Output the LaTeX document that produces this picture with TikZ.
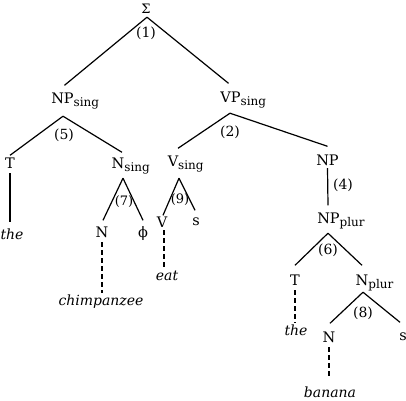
\documentclass[tikz,border=0pt]{standalone}
\usepackage{fontspec}
\setmainfont{DejaVu Serif}
\newcommand{\sbs}[1]{\rlap{\raisebox{-3.5pt}{\fontsize{12}{12}\selectfont #1}}}
\tikzset{
  lab/.style={inner sep=0pt, text height=10.5pt, text depth=0pt, anchor=base, font=\fontsize{14.5}{17}\selectfont},
  wrd/.style={lab, font=\fontsize{14}{17}\selectfont\itshape},
  num/.style={inner sep=0pt, font=\fontsize{14}{17}\selectfont},
  edge/.style={line width=1.2pt},
  dedge/.style={line width=1.1pt, dash pattern=on 5pt off 3pt}
}
\begin{document}
\begin{tikzpicture}[x=1pt,y=-1pt]
\useasboundingbox (0,0) rectangle (406,400);
% nodes
\node[lab, text height=9pt, font=\fontsize{13}{15}\selectfont] (sigma) at (146,13) {Σ};
\node[lab] (npsing) at (62.5,103) {NP\sbs{sing}};
\node[lab] (vpsing) at (230.5,102) {VP\sbs{sing}};
\node[lab] (tA) at (10,168) {T};
\node[lab] (nsing) at (118,168) {N\sbs{sing}};
\node[lab] (vsing) at (173,166) {V\sbs{sing}};
\node[lab] (np) at (327.5,165) {NP};
\node[lab] (npplur) at (328.5,223) {NP\sbs{plur}};
\node[wrd] (theA) at (12,239) {the};
\node[lab] (nA) at (102,237) {N};
\node[lab] (phi) at (143,237) {ϕ};
\node[lab] (v) at (162,227) {V};
\node[lab] (sA) at (196,225) {s};
\node[wrd] (chimp) at (101,305) {chimpanzee};
\node[wrd] (eat) at (167,280) {eat};
\node[lab] (tB) at (295,285) {T};
\node[lab] (nplur) at (362,285) {N\sbs{plur}};
\node[wrd] (theB) at (296,335) {the};
\node[lab] (nB) at (329,342) {N};
\node[lab] (sB) at (403,340) {s};
\node[wrd] (banana) at (330,397) {banana};
% rule numbers
\node[num] (r1) at (146,33) {(1)};
\node[num] (r5) at (64,135) {(5)};
\node[num] (r2) at (230,132) {(2)};
\node[num, font=\fontsize{13}{16}\selectfont] (r7) at (124,202) {(7)};
\node[num, font=\fontsize{13}{16}\selectfont] (r9) at (180,200) {(9)};
\node[num] (r4) at (343,185) {(4)};
\node[num] (r6) at (328,250) {(6)};
\node[num] (r8) at (363,313) {(8)};
% connectors
\draw[edge] ([xshift=1pt,yshift=-4pt]sigma.south) -- ([xshift=2pt,yshift=7pt]npsing.north);
\draw[edge] ([xshift=1pt,yshift=-4pt]sigma.south) -- ([xshift=-2pt,yshift=8pt]vpsing.north);
\draw[edge] ([xshift=0.5pt,yshift=-13pt]npsing.south) -- ([yshift=2pt]tA.north);
\draw[edge] ([xshift=0.5pt,yshift=-13pt]npsing.south) -- ([xshift=4pt,yshift=5pt]nsing.north);
\draw[edge] ([xshift=-0.5pt,yshift=-11pt]vpsing.south) -- ([xshift=5pt,yshift=7pt]vsing.north);
\draw[edge] ([xshift=-0.5pt,yshift=-11pt]vpsing.south) -- ([yshift=8pt]np.north);
\draw[edge] ([yshift=-3pt]np.south) -- ([xshift=-0.5pt,yshift=7pt]npplur.north);
\draw[edge] ([xshift=-0.5pt,yshift=-10pt]npplur.south) -- ([yshift=9pt]tB.north);
\draw[edge] ([xshift=-0.5pt,yshift=-10pt]npplur.south) -- ([yshift=9pt]nplur.north);
\draw[edge] ([xshift=5pt,yshift=-10pt]nsing.south) -- ([xshift=1pt,yshift=6pt]nA.north);
\draw[edge] ([xshift=5pt,yshift=-10pt]nsing.south) -- ([yshift=6pt]phi.north);
\draw[edge] ([xshift=6pt,yshift=-12pt]vsing.south) -- ([xshift=1pt,yshift=1pt]v.north);
\draw[edge] ([xshift=6pt,yshift=-12pt]vsing.south) -- ([xshift=-1pt,yshift=4pt]sA.north);
\draw[edge] ([xshift=1pt,yshift=-7pt]nplur.south) -- ([xshift=1pt,yshift=8pt]nB.north);
\draw[edge] ([xshift=1pt,yshift=-7pt]nplur.south) -- ([xshift=-3pt,yshift=7pt]sB.north);
\draw[edge] ([yshift=-5pt]tA.south) -- ([xshift=-2pt,yshift=6pt]theA.north);
\draw[dedge] ([yshift=-5pt]nA.south) -- ([xshift=1pt,yshift=1pt]chimp.north);
\draw[dedge] ([xshift=2pt,yshift=-3pt]v.south) -- ([xshift=-3pt]eat.north);
\draw[dedge] ([yshift=-5pt]tB.south) -- ([xshift=-1pt,yshift=2pt]theB.north);
\draw[dedge] ([yshift=-5pt]nB.south) -- ([xshift=-1pt,yshift=9pt]banana.north);
\end{tikzpicture}
\end{document}
